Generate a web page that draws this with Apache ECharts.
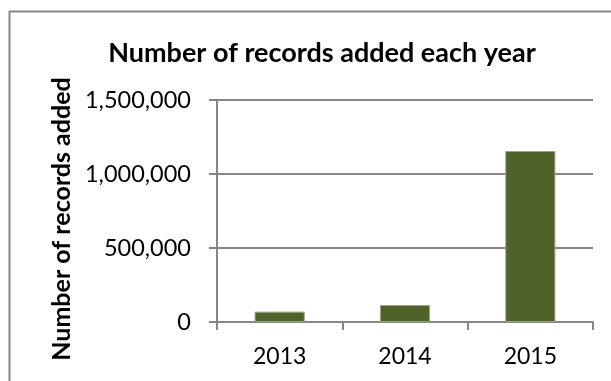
<!DOCTYPE html>
<html>
<head>
<meta charset="utf-8">
<script src="https://cdn.jsdelivr.net/npm/echarts@6/dist/echarts.min.js"></script>
<style>
html,body{margin:0;padding:0;background:#fff;}
#c{width:611px;height:381px;}
</style>
</head>
<body>
<div id="c"></div>
<script>
const categories = ['2013', '2014', '2015'];
const recordsAdded = [70000, 115000, 1155000];
const yTicks = [0, 500000, 1000000, 1500000];

const FONT = 'Lato';
const chart = echarts.init(document.getElementById('c'), null, {renderer: 'canvas'});
chart.setOption({
  backgroundColor: '#fff',
  animation: false,
  title: {
    text: 'Number of records added each year',
    left: 317,
    textAlign: 'center',
    top: 35,
    textStyle: {fontFamily: FONT, fontSize: 27, fontWeight: 'bold', color: '#000'}
  },
  graphic: [
    {type: 'line', shape: {x1: 9, y1: 11.5, x2: 611, y2: 11.5}, style: {stroke: '#868686', lineWidth: 2}},
    {type: 'line', shape: {x1: 9.5, y1: 11, x2: 9.5, y2: 381}, style: {stroke: '#868686', lineWidth: 2}}
  ],
  grid: {left: 217, right: 18, top: 100, bottom: 59},
  xAxis: {
    type: 'category',
    data: categories,
    axisLine: {lineStyle: {color: '#868686', width: 2}},
    axisTick: {show: true, length: 8, lineStyle: {color: '#868686', width: 2}},
    axisLabel: {fontFamily: FONT, fontSize: 23, color: '#000', margin: 23}
  },
  yAxis: {
    type: 'value',
    min: yTicks[0],
    max: yTicks[yTicks.length - 1],
    interval: yTicks[1] - yTicks[0],
    name: 'Number of records added',
    nameLocation: 'middle',
    nameGap: 143,
    nameTextStyle: {fontFamily: FONT, fontSize: 25, fontWeight: 'bold', color: '#000', padding: [0, 16, 0, 0]},
    axisLine: {show: true, lineStyle: {color: '#868686', width: 2}},
    axisTick: {show: true, length: 8, lineStyle: {color: '#868686', width: 2}},
    splitLine: {lineStyle: {color: '#868686', width: 2}},
    axisLabel: {
      fontFamily: FONT, fontSize: 23.5, color: '#000', margin: 26,
      formatter: v => v.toLocaleString('en-US')
    }
  },
  series: [{
    type: 'bar',
    data: recordsAdded,
    barWidth: '40%',
    itemStyle: {color: '#4F6228', borderColor: '#9BA58A', borderWidth: 1}
  }]
});
</script>
</body>
</html>
